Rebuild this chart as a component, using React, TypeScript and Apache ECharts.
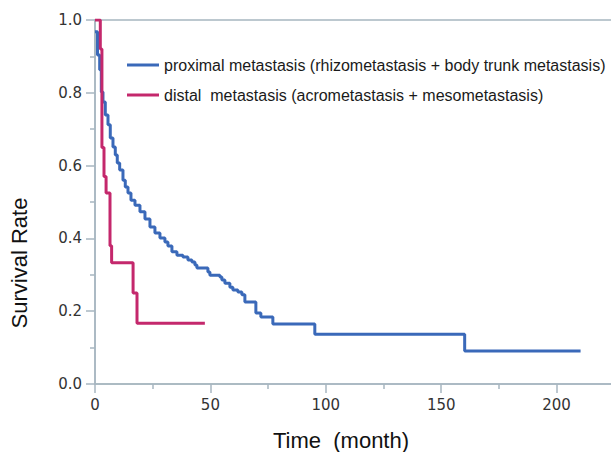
import React, { useEffect, useRef } from "react";
import * as echarts from "echarts";

// Kaplan–Meier curves (time in months, survival rate)
const proximalTimes = [0, 1.08, 2.03, 2.73, 3.46, 4.46, 5.63, 6.62, 7.79, 8.79, 9.65, 10.69, 12.12, 13.12, 14.29, 15.58, 17.32, 19.48, 21.65, 23.81, 25.97, 28.14, 30.3, 31.6, 33.33, 35.5, 38.1, 40.26, 41.99, 43.29, 44.16, 48.92, 49.78, 54.11, 54.98, 56.28, 58.44, 59.74, 61.9, 63.64, 64.94, 69.7, 71.86, 77.06, 95.24, 160.17, 210.39];
const proximalSurvival = [0.968, 0.904, 0.863, 0.802, 0.775, 0.739, 0.712, 0.676, 0.651, 0.629, 0.607, 0.588, 0.56, 0.541, 0.525, 0.505, 0.491, 0.473, 0.453, 0.431, 0.415, 0.401, 0.39, 0.379, 0.363, 0.354, 0.349, 0.341, 0.335, 0.327, 0.319, 0.308, 0.299, 0.294, 0.286, 0.277, 0.266, 0.258, 0.253, 0.245, 0.225, 0.195, 0.184, 0.165, 0.137, 0.091, 0.091];

const distalTimes = [0, 2.3, 3.0, 3.9, 4.8, 6.5, 7.2, 16.5, 18.2, 47.6];
const distalSurvival = [1.0, 0.92, 0.65, 0.57, 0.525, 0.38, 0.333, 0.25, 0.167, 0.167];

const seriesNames = [
  "proximal metastasis (rhizometastasis + body trunk metastasis)",
  "distal  metastasis (acrometastasis + mesometastasis)",
];
const xTitle = "Time  (month)";
const yTitle = "Survival Rate";

const AXIS_COLOR = "#a7b6c0";

export default function App() {
  const ref = useRef<HTMLDivElement>(null);
  useEffect(() => {
    if (!ref.current) return;
    const chart = echarts.init(ref.current, undefined, { renderer: "svg" });
    const zip = (t: number[], s: number[]) => t.map((v, i) => [v, s[i]]);
    chart.setOption({
      animation: false,
      backgroundColor: "#ffffff",
      grid: {
        left: 95,
        top: 20,
        bottom: 68,
        right: -61,
        show: true,
        borderColor: AXIS_COLOR,
        borderWidth: 1.5,
        containLabel: false,
        outerBoundsMode: "none",
      },
      legend: {
        orient: "vertical",
        left: 127,
        top: 57,
        padding: 0,
        itemWidth: 32,
        itemHeight: 3,
        itemGap: 14,
        icon: "rect",
        textStyle: {
          fontFamily: "Liberation Sans, Arial, sans-serif",
          fontSize: 16,
          lineHeight: 16,
          color: "#1a1a1a",
        },
        data: seriesNames,
      },
      xAxis: {
        type: "value",
        min: 0,
        max: 250,
        interval: 50,
        axisLine: { show: true, lineStyle: { color: AXIS_COLOR, width: 1.5 } },
        axisTick: { show: true, length: 9, lineStyle: { color: AXIS_COLOR, width: 1.5 } },
        minorTick: { show: true, splitNumber: 2, length: 5, lineStyle: { color: AXIS_COLOR, width: 1.5 } },
        splitLine: { show: false },
        axisLabel: {
          margin: 13,
          showMaxLabel: false,
          fontFamily: "DejaVu Sans, Verdana, sans-serif",
          fontSize: 15,
          color: "#333333",
          formatter: (v: number) => (v > 200 ? "" : String(v)),
        },
      },
      yAxis: {
        type: "value",
        min: 0,
        max: 1,
        interval: 0.2,
        axisLine: { show: true, lineStyle: { color: AXIS_COLOR, width: 1.5 } },
        axisTick: { show: true, length: 9, lineStyle: { color: AXIS_COLOR, width: 1.5 } },
        minorTick: { show: true, splitNumber: 2, length: 5, lineStyle: { color: AXIS_COLOR, width: 1.5 } },
        splitLine: { show: false },
        axisLabel: {
          margin: 13,
          fontFamily: "DejaVu Sans, Verdana, sans-serif",
          fontSize: 15,
          color: "#333333",
          formatter: (v: number) => v.toFixed(1),
        },
      },
      graphic: [
        {
          type: "text",
          x: 19,
          y: 263,
          rotation: Math.PI / 2,
          style: {
            text: yTitle,
            fontFamily: "Liberation Sans, Arial, sans-serif",
            fontSize: 22,
            fill: "#111111",
            align: "center",
            verticalAlign: "middle",
          },
        },
        {
          type: "text",
          x: 341,
          y: 440,
          style: {
            text: xTitle,
            fontFamily: "Liberation Sans, Arial, sans-serif",
            fontSize: 22,
            fill: "#111111",
            align: "center",
            verticalAlign: "middle",
          },
        },
      ],
      series: [
        {
          name: seriesNames[0],
          type: "line",
          step: "end",
          symbol: "none",
          data: zip(proximalTimes, proximalSurvival),
          lineStyle: { color: "#3a69b9", width: 3 },
          itemStyle: { color: "#3a69b9" },
          z: 3,
        },
        {
          name: seriesNames[1],
          type: "line",
          step: "end",
          symbol: "none",
          data: zip(distalTimes, distalSurvival),
          lineStyle: { color: "#c4286c", width: 3 },
          itemStyle: { color: "#c4286c" },
          z: 4,
        },
      ],
    });
    return () => chart.dispose();
  }, []);
  return (
    <div
      ref={ref}
      style={{ position: "fixed", left: 0, top: 0, width: 611, height: 452 }}
    />
  );
}
